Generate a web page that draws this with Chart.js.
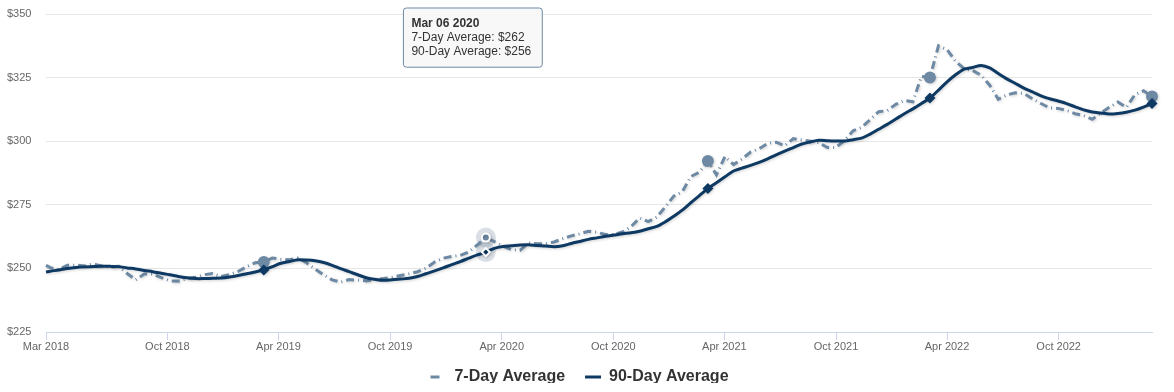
<!DOCTYPE html>
<html>
<head>
<meta charset="utf-8">
<script src="https://cdn.jsdelivr.net/npm/chart.js@4.4.1/dist/chart.umd.min.js"></script>
<style>
html,body{margin:0;padding:0;background:#fff;}
canvas{display:block;}
</style>
</head>
<body>
<canvas id="c" width="1174" height="392"></canvas>
<script>
// ---- data ----
const startDate = '2018-03-16';           // first weekly observation (Friday)
const lastWeek = 259;                      // last observation: Mar 03 2023
// observation weeks (bi-weekly sampling of the weekly series)
const pointWeeks = [0].concat(Array.from({length: 130}, (_, k) => 2 * k + 1));

const sevenDay = [
 251.2, 250.3, 249.5, 251.2, 251.3, 250.9, 251.7, 251.0, 250.5, 250.8,
 248.0, 245.5, 247.8, 247.8, 246.4, 245.1, 245.0, 246.0, 246.5, 247.5,
 248.0, 246.8, 247.6, 248.8, 250.7, 252.2, 252.5, 254.1, 253.6, 253.4,
 254.1, 252.2, 249.8, 247.5, 245.5, 244.6, 245.6, 245.4, 245.1, 245.6,
 246.0, 246.5, 247.2, 247.9, 248.7, 250.1, 252.5, 254.0, 254.7, 255.1,
 256.5, 259.2, 262.1, 260.5, 258.8, 257.4, 257.1, 260.0, 259.7, 259.7,
 260.4, 261.7, 262.8, 263.6, 264.6, 264.2, 263.3, 263.3, 264.3, 266.4,
 269.8, 268.4, 270.1, 274.1, 278.4, 280.1, 286.1, 287.8, 292.2, 286.8,
 294.0, 290.8, 293.0, 295.7, 297.0, 299.1, 299.6, 298.2, 301.0, 300.5,
 300.0, 299.4, 297.5, 297.5, 300.3, 304.1, 305.4, 308.5, 311.6, 312.0,
 314.5, 316.0, 315.5, 325.5, 325.0, 337.5, 336.0, 331.4, 328.5, 327.8,
 325.9, 322.0, 316.5, 318.2, 319.0, 318.8, 316.7, 314.8, 313.1, 312.9,
 312.1, 310.8, 310.1, 308.6, 311.1, 313.3, 315.4, 313.3, 318.3, 319.8,
 317.6
];

const ninetyDay = [
 248.6, 248.9, 249.4, 250.0, 250.4, 250.6, 250.7, 250.8, 250.8, 250.7,
 250.2, 249.8, 249.2, 248.7, 248.1, 247.5, 246.8, 246.3, 246.0, 246.0,
 246.1, 246.2, 246.6, 247.2, 247.9, 248.6, 249.4, 250.7, 252.0, 252.7,
 253.4, 253.3, 253.0, 252.3, 251.2, 249.9, 248.7, 247.5, 246.3, 245.7,
 245.3, 245.5, 245.8, 246.1, 246.8, 247.9, 249.0, 250.2, 251.5, 252.7,
 254.0, 255.3, 256.4, 257.9, 258.6, 258.9, 259.2, 259.3, 259.0, 258.8,
 258.5, 258.9, 259.8, 260.6, 261.4, 262.0, 262.6, 263.1, 263.6, 264.0,
 264.6, 265.6, 266.5, 268.3, 270.5, 272.9, 275.8, 278.6, 281.4, 283.7,
 286.0, 288.3, 289.4, 290.5, 291.7, 293.1, 294.6, 296.1, 297.5, 298.9,
 299.7, 300.4, 300.2, 300.1, 300.1, 300.6, 301.2, 302.8, 304.7, 306.6,
 308.7, 310.8, 312.7, 314.8, 317.0, 320.1, 323.3, 326.1, 328.3, 329.0,
 329.8, 328.8, 326.6, 324.5, 322.7, 320.9, 319.4, 317.8, 316.7, 315.8,
 314.8, 313.5, 312.3, 311.5, 311.1, 310.7, 310.9, 311.4, 312.2, 313.4,
 314.8
];

// yearly markers (indices into the point arrays) and the highlighted one
const markerIndex = [26, 52, 78, 104, 130];
const hoverIndex = 52;

// x-axis ticks
const tickDates  = ['2018-03-16','2018-10-01','2019-04-01','2019-10-01','2020-04-01','2020-10-01','2021-04-01','2021-10-01','2022-04-01','2022-10-01'];
const tickLabels = ['Mar 2018','Oct 2018','Apr 2019','Oct 2019','Apr 2020','Oct 2020','Apr 2021','Oct 2021','Apr 2022','Oct 2022'];

const yMin = 225, yMax = 350, yStep = 25;

// ---- helpers ----
const DAY = 86400000;
const t0 = Date.parse(startDate + 'T00:00:00Z');
const toDay = s => Math.round((Date.parse(s + 'T00:00:00Z') - t0) / DAY);
const tickDays = tickDates.map(toDay);
const pointDays = pointWeeks.map(w => w * 7);
const MONTHS = ['Jan','Feb','Mar','Apr','May','Jun','Jul','Aug','Sep','Oct','Nov','Dec'];
const fmtDate = d => { const dt = new Date(t0 + d * DAY); return MONTHS[dt.getUTCMonth()] + ' ' + String(dt.getUTCDate()).padStart(2,'0') + ' ' + dt.getUTCFullYear(); };

const FONT = "'Liberation Sans', Arial, Helvetica, sans-serif";
const C7 = '#6d89a4';
const C90 = '#0d3963';

const radii = r => pointWeeks.map((_, i) => markerIndex.includes(i) ? r : 0);

const haloPlugin = {
  id: 'halo',
  beforeDatasetsDraw(chart) {
    const ctx = chart.ctx;
    chart.getActiveElements().forEach(a => {
      const el = a.element;
      ctx.save();
      ctx.beginPath();
      ctx.arc(el.x, el.y, 10, 0, Math.PI * 2);
      ctx.fillStyle = 'rgba(120,140,160,0.28)';
      ctx.fill();
      ctx.restore();
    });
  }
};
const shadowPlugin = {
  id: 'lineShadow',
  beforeDatasetDraw(chart) {
    const ctx = chart.ctx;
    ctx.save();
    ctx.shadowColor = 'rgba(0,0,0,0.18)';
    ctx.shadowBlur = 3;
    ctx.shadowOffsetX = 1;
    ctx.shadowOffsetY = 1;
  },
  afterDatasetDraw(chart) { chart.ctx.restore(); }
};
// legend uses wide horizontal spacing; keep its vertical placement compact
const legendShift = {
  id: 'legendShift',
  afterLayout(chart) { const l = chart.legend; if (l) { l.top -= 9; l.bottom -= 9; } }
};

Chart.Tooltip.positioners.topFixed = function(items) {
  if (!items.length) return false;
  const el = items[0].element;
  return { x: el.x - 13, y: this.chart.chartArea.top - 6 };
};

const chart = new Chart(document.getElementById('c'), {
  type: 'line',
  data: {
    datasets: [
      {
        label: '7-Day Average',
        data: pointDays.map((d, i) => ({ x: d, y: sevenDay[i] })),
        borderColor: C7,
        backgroundColor: C7,
        borderWidth: 3,
        borderDash: [8, 4, 1, 4],
        tension: 0,
        pointStyle: 'circle',
        pointRadius: radii(6),
        pointBorderWidth: 0,
        pointHoverRadius: 4,
        pointHoverBorderWidth: 2,
        pointHoverBorderColor: '#ffffff',
        pointHoverBackgroundColor: C7,
        clip: 10,
        order: 1
      },
      {
        label: '90-Day Average',
        data: pointDays.map((d, i) => ({ x: d, y: ninetyDay[i] })),
        borderColor: C90,
        backgroundColor: C90,
        borderWidth: 3,
        tension: 0.3,
        pointStyle: 'rectRot',
        pointRadius: radii(5.5),
        pointBorderWidth: 0,
        pointHoverRadius: 4,
        pointHoverBorderWidth: 2,
        pointHoverBorderColor: '#ffffff',
        pointHoverBackgroundColor: C90,
        clip: 10,
        order: 0
      }
    ]
  },
  options: {
    responsive: false,
    animation: false,
    events: [],
    layout: { padding: { top: 14, right: 22, left: 7, bottom: 0 } },
    scales: {
      x: {
        type: 'linear',
        min: 0,
        max: lastWeek * 7,
        afterBuildTicks: s => { s.ticks = tickDays.map(v => ({ value: v })); },
        afterFit: s => { s.height = 26; },
        ticks: {
          autoSkip: false, maxRotation: 0, padding: 0,
          color: '#666666', font: { family: FONT, size: 11 },
          callback: (v, i) => tickLabels[i]
        },
        grid: { drawOnChartArea: false, drawTicks: true, tickLength: 8, color: '#ccd6eb' },
        border: { color: '#ccd6eb', width: 1 }
      },
      y: {
        min: yMin, max: yMax,
        afterFit: s => { s.width = 39; },
        ticks: {
          stepSize: yStep, padding: 0, crossAlign: 'far',
          color: '#666666', font: { family: FONT, size: 11 },
          callback: v => '$' + v
        },
        grid: { color: '#e6e6e6', drawTicks: false },
        border: { display: false }
      }
    },
    plugins: {
      legend: {
        position: 'bottom',
        maxHeight: 34,
        labels: {
          usePointStyle: true,
          pointStyleWidth: 16,
          padding: 20,
          color: '#333333',
          font: { family: FONT, size: 16, weight: 'bold' },
          generateLabels: ch => ch.data.datasets.map((ds, i) => ({
            text: ds.label, fillStyle: ds.borderColor, strokeStyle: ds.borderColor,
            lineWidth: 3, lineDash: ds.borderDash ? [9, 7] : [], pointStyle: 'line',
            hidden: false, datasetIndex: i, fontColor: '#333333'
          }))
        }
      },
      tooltip: {
        enabled: true,
        animation: false,
        position: 'topFixed',
        xAlign: 'center', yAlign: 'top',
        caretSize: 0, caretPadding: 0,
        backgroundColor: 'rgba(247,247,247,0.92)',
        borderColor: C7, borderWidth: 1, cornerRadius: 3,
        padding: { top: 8, bottom: 8, left: 8, right: 11 },
        titleColor: '#333333', bodyColor: '#333333',
        titleFont: { family: FONT, size: 12, weight: 'bold' },
        bodyFont: { family: FONT, size: 12 },
        titleMarginBottom: 0, bodySpacing: 0,
        displayColors: false,
        callbacks: {
          title: items => fmtDate(items[0].parsed.x),
          label: item => item.dataset.label + ': $' + Math.round(item.parsed.y)
        }
      }
    }
  },
  plugins: [haloPlugin, shadowPlugin, legendShift]
});

const active = [{ datasetIndex: 0, index: hoverIndex }, { datasetIndex: 1, index: hoverIndex }];
const pt = chart.getDatasetMeta(0).data[hoverIndex];
chart.setActiveElements(active);
chart.tooltip.setActiveElements(active, { x: pt.x, y: pt.y });
chart.update();
</script>
</body>
</html>
